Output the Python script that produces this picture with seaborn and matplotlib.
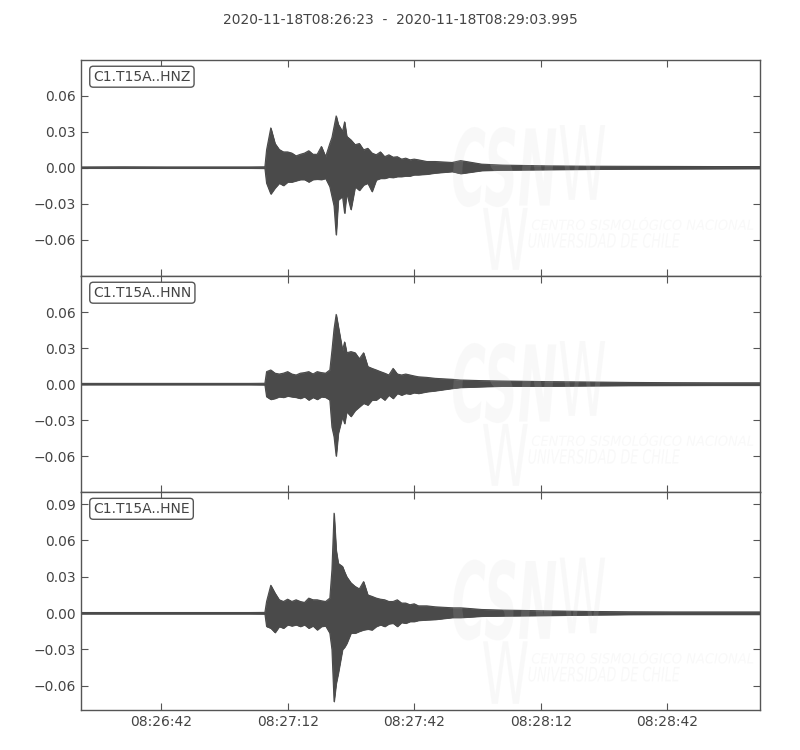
import numpy as np
import pandas as pd
import matplotlib
matplotlib.use("Agg")
import matplotlib.pyplot as plt
import matplotlib.dates as mdates
from matplotlib.ticker import FixedLocator, FuncFormatter, NullLocator
from matplotlib.textpath import TextPath
from matplotlib.patches import PathPatch
from matplotlib.font_manager import FontProperties
from matplotlib.transforms import Affine2D
import seaborn as sns

t_sec = [0, 10, 20, 30, 40, 43.6,
         44, 45, 46, 47, 48, 49, 50, 51, 52, 53, 54, 55, 56, 57, 58, 59,
         59.5, 60, 60.5, 61, 62, 62.5,
         63, 64, 65, 66, 67, 68, 69, 70, 71, 72, 73, 74, 75, 76, 77, 78, 79, 80,
         82, 84, 88, 90, 95, 100,
         110, 120, 130, 140, 150, 160.995]

hnz_hi = [0.0005, 0.0006, 0.0005, 0.0005, 0.0005, 0.0006,
          0.0147, 0.033, 0.020, 0.015, 0.013, 0.013, 0.012, 0.0097, 0.011, 0.012, 0.014, 0.011, 0.011, 0.0175, 0.009, 0.020,
          0.025, 0.034, 0.043, 0.036, 0.030, 0.038,
          0.026, 0.023, 0.019, 0.020, 0.0147, 0.016, 0.012, 0.0106, 0.013, 0.009, 0.0106, 0.0086, 0.009, 0.007, 0.0078, 0.0064, 0.007, 0.0064,
          0.005, 0.005, 0.0042, 0.0058, 0.0028, 0.002,
          0.0014, 0.0011, 0.001, 0.0009, 0.0008, 0.0008]
hnz_lo = [-0.0005, -0.0005, -0.0005, -0.0005, -0.0005, -0.0006,
          -0.013, -0.022, -0.017, -0.013, -0.015, -0.012, -0.012, -0.011, -0.010, -0.010, -0.012, -0.010, -0.0097, -0.010, -0.009, -0.016,
          -0.024, -0.032, -0.056, -0.027, -0.024, -0.038,
          -0.021, -0.035, -0.016, -0.019, -0.0145, -0.013, -0.020, -0.0103, -0.009, -0.009, -0.008, -0.0083, -0.0075, -0.0075, -0.007, -0.007, -0.006, -0.006,
          -0.0055, -0.0045, -0.0033, -0.005, -0.0025, -0.002,
          -0.0017, -0.0014, -0.0011, -0.001, -0.0009, -0.0008]

hnn_hi = [0.0005, 0.0005, 0.0005, 0.0005, 0.0005, 0.0006,
          0.0103, 0.0117, 0.009, 0.0083, 0.009, 0.0103, 0.0083, 0.0075, 0.009, 0.0095, 0.0103, 0.0083, 0.0103, 0.0095, 0.009, 0.0117,
          0.028, 0.046, 0.058, 0.048, 0.028, 0.035,
          0.026, 0.027, 0.026, 0.021, 0.026, 0.0145, 0.013, 0.0117, 0.0103, 0.009, 0.0075, 0.013, 0.0083, 0.0075, 0.0083, 0.0075, 0.0067, 0.006,
          0.0055, 0.0047, 0.0039, 0.0033, 0.0028, 0.0025,
          0.002, 0.0017, 0.0013, 0.0011, 0.001, 0.001]
hnn_lo = [-0.0005, -0.0005, -0.0005, -0.0005, -0.0005, -0.0006,
          -0.0106, -0.0128, -0.012, -0.0106, -0.0111, -0.010, -0.0106, -0.0111, -0.012, -0.0106, -0.0133, -0.0111, -0.0128, -0.0106, -0.0111, -0.0133,
          -0.036, -0.044, -0.060, -0.041, -0.027, -0.033,
          -0.023, -0.027, -0.022, -0.019, -0.016, -0.0175, -0.0133, -0.0133, -0.0106, -0.0133, -0.0092, -0.012, -0.0078, -0.0092, -0.0078, -0.0083, -0.0072, -0.0078,
          -0.0064, -0.0056, -0.0036, -0.0028, -0.0022, -0.0017,
          -0.0017, -0.0014, -0.0012, -0.0011, -0.001, -0.001]

hne_hi = [0.0005, 0.0005, 0.0005, 0.0005, 0.0005, 0.0006,
          0.0096, 0.023, 0.0165, 0.011, 0.0096, 0.0115, 0.0096, 0.011, 0.0096, 0.0088, 0.0124, 0.011, 0.011, 0.0102, 0.0096, 0.0124,
          0.036, 0.0825, 0.052, 0.041, 0.0385, 0.034,
          0.030, 0.025, 0.022, 0.020, 0.026, 0.015, 0.0138, 0.0124, 0.0115, 0.011, 0.0096, 0.0096, 0.011, 0.0083, 0.0083, 0.0069, 0.0077, 0.006,
          0.006, 0.0052, 0.0044, 0.0044, 0.003, 0.0025,
          0.0019, 0.0014, 0.0011, 0.001, 0.001, 0.001]
hne_lo = [-0.0005, -0.0005, -0.0005, -0.0005, -0.0005, -0.0006,
          -0.011, -0.0124, -0.016, -0.011, -0.0124, -0.0096, -0.0105, -0.0096, -0.011, -0.0096, -0.0124, -0.0105, -0.0138, -0.011, -0.0105, -0.0165,
          -0.030, -0.073, -0.058, -0.0495, -0.030, -0.028,
          -0.025, -0.0165, -0.0165, -0.015, -0.0138, -0.0132, -0.0138, -0.011, -0.0096, -0.011, -0.0088, -0.0083, -0.011, -0.0077, -0.0083, -0.0069, -0.0069, -0.006,
          -0.0055, -0.0052, -0.0036, -0.0036, -0.0025, -0.0022,
          -0.0019, -0.0014, -0.0011, -0.001, -0.001, -0.001]

canales = ["C1.T15A..HNZ", "C1.T15A..HNN", "C1.T15A..HNE"]
ylims = [(-0.0904, 0.0896), (-0.090, 0.090), (-0.080, 0.100)]
yticks = [[-0.06, -0.03, 0.0, 0.03, 0.06],
          [-0.06, -0.03, 0.0, 0.03, 0.06],
          [-0.06, -0.03, 0.0, 0.03, 0.06, 0.09]]
titulo = "2020-11-18T08:26:23  -  2020-11-18T08:29:03.995"

inicio = pd.Timestamp("2020-11-18 08:26:23")
fin = inicio + pd.Timedelta(seconds=160.995)
tiempos = inicio + pd.to_timedelta(t_sec, unit="s")

sns.set_theme(style="ticks")
plt.rcParams.update({
    "font.family": ["DejaVu Sans"],
    "font.size": 10,
    "text.color": "#444444",
    "xtick.color": "#555555",
    "ytick.color": "#555555",
    "xtick.labelcolor": "#444444",
    "ytick.labelcolor": "#444444",
    "axes.edgecolor": "#555555",
})

color_onda = "#4a4a4a"


def marca_agua(ax, txt, x0, y0, x1, y1, peso="normal", estilo="normal"):
    tp = TextPath((0, 0), txt, size=1,
                  prop=FontProperties(family="DejaVu Sans", weight=peso, style=estilo))
    bb = tp.get_extents()
    tr = (Affine2D().translate(-bb.x0, -bb.y0)
          .scale((x1 - x0) / bb.width, (y1 - y0) / bb.height)
          .translate(x0, y0) + ax.transAxes)
    ax.add_patch(PathPatch(tp, transform=tr, fc="#d0d0d0", ec="none",
                           alpha=0.13, zorder=5))


fmt_y = FuncFormatter(lambda v, p: f"{v:.2f}".replace("-", "\u2212"))

fig = plt.figure(figsize=(8, 7.5), dpi=100)
fondos = [0.632, 0.344, 0.0533]
altos = [0.288, 0.288, 0.2907]
series = [(hnz_hi, hnz_lo), (hnn_hi, hnn_lo), (hne_hi, hne_lo)]

for i, (hi, lo) in enumerate(series):
    ax = fig.add_axes([0.10125, fondos[i], 0.84875, altos[i]])
    ax.fill_between(tiempos, lo, hi, color=color_onda, lw=0.6)
    sns.lineplot(x=tiempos, y=hi, ax=ax, color=color_onda, lw=0.8)
    sns.lineplot(x=tiempos, y=lo, ax=ax, color=color_onda, lw=0.8)

    ax.set_xlim(inicio, fin)
    ax.set_ylim(*ylims[i])
    ax.yaxis.set_major_locator(FixedLocator(yticks[i]))
    ax.yaxis.set_major_formatter(fmt_y)
    ax.yaxis.set_minor_locator(NullLocator())
    ax.xaxis.set_major_locator(mdates.SecondLocator(bysecond=[12, 42]))
    ax.xaxis.set_major_formatter(mdates.DateFormatter("%H:%M:%S"))
    ax.tick_params(direction="in", top=True, right=True, length=5,
                   width=0.8, labelsize=10)
    if i < 2:
        ax.tick_params(labelbottom=False)
    for s in ax.spines.values():
        s.set_linewidth(1.0)
    ax.set_xlabel("")
    ax.set_ylabel("")

    ax.text(0.018, 0.955, canales[i], transform=ax.transAxes, ha="left",
            va="top", fontsize=10, color="#444444", zorder=10,
            bbox=dict(boxstyle="round,pad=0.25", fc="white", ec="#555555", lw=1.0))

    # marca de agua CSN (muy tenue)
    marca_agua(ax, "CSN", 0.548, 0.319, 0.700, 0.690, peso="bold", estilo="italic")
    marca_agua(ax, "W", 0.705, 0.352, 0.772, 0.699)
    marca_agua(ax, "W", 0.592, 0.028, 0.658, 0.315)
    marca_agua(ax, "CENTRO SISMOLÓGICO NACIONAL", 0.664, 0.213, 0.99, 0.273, estilo="italic")
    marca_agua(ax, "UNIVERSIDAD DE CHILE", 0.659, 0.130, 0.882, 0.199, estilo="italic")

fig.text(0.5, 0.973, titulo, ha="center", va="center", fontsize=10, color="#444444")

plt.savefig("out.png", dpi=100)
